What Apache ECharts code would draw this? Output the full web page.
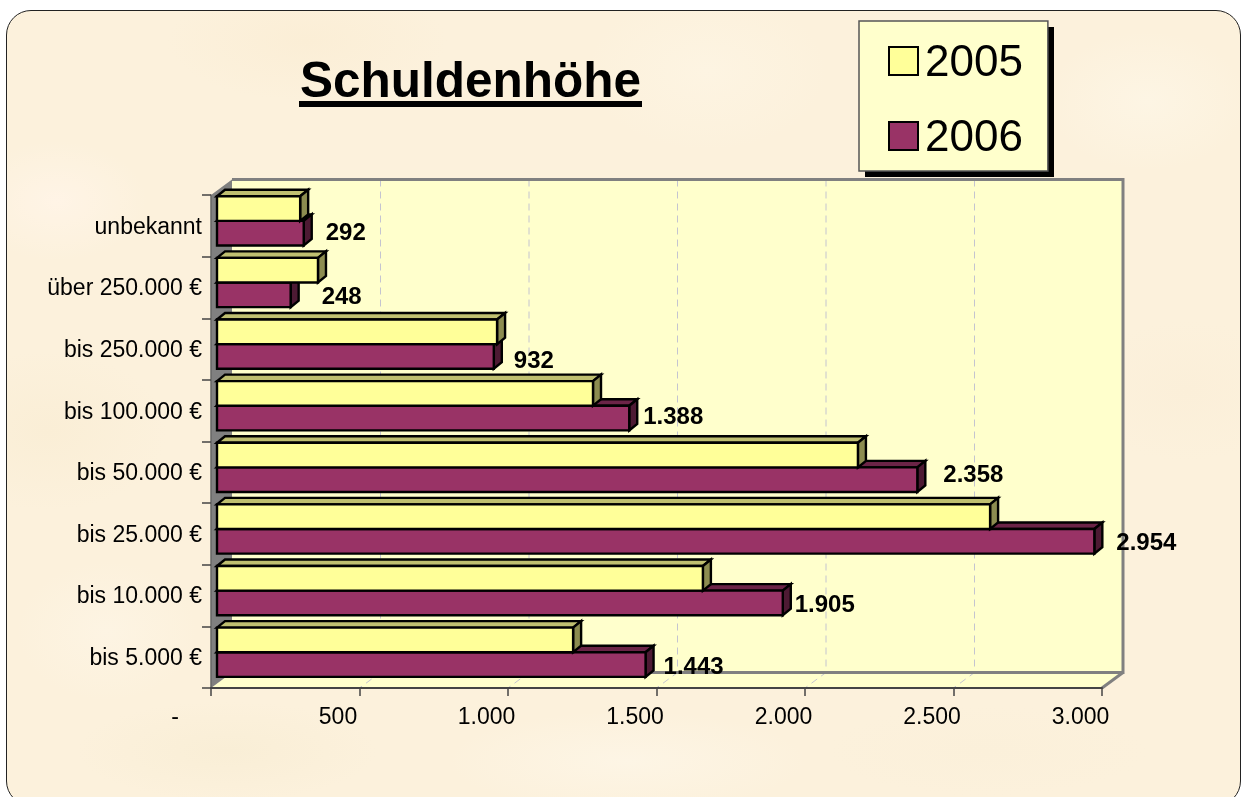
<!DOCTYPE html>
<html>
<head>
<meta charset="utf-8">
<script src="https://cdn.jsdelivr.net/npm/echarts@6/dist/echarts.min.js"></script>
<style>
html,body{margin:0;padding:0;background:#fff;width:1241px;height:797px;overflow:hidden}
#paper{position:absolute;left:6px;top:10px;width:1233px;height:794px;border:1.5px solid #222;border-radius:25px;
background-color:#fcf1dc;
background-image:
radial-gradient(ellipse 90px 60px at 50px 190px,#fff4e6 0,rgba(255,244,230,0) 100%),
radial-gradient(ellipse 140px 60px at 300px 30px,#fbeed6 0,rgba(251,238,214,0) 100%),
radial-gradient(ellipse 120px 80px at 700px 60px,#fdf4e2 0,rgba(253,244,226,0) 100%),
radial-gradient(ellipse 100px 70px at 1140px 90px,#fdf5e4 0,rgba(253,245,228,0) 100%),
radial-gradient(ellipse 120px 80px at 40px 420px,#faeed6 0,rgba(250,238,214,0) 100%),
radial-gradient(ellipse 110px 70px at 1180px 380px,#fbefd9 0,rgba(251,239,217,0) 100%),
radial-gradient(ellipse 150px 50px at 220px 740px,#f9eed6 0,rgba(249,238,214,0) 100%),
radial-gradient(ellipse 180px 50px at 620px 750px,#fdf5e5 0,rgba(253,245,229,0) 100%),
radial-gradient(ellipse 160px 45px at 980px 740px,#fbf0da 0,rgba(251,240,218,0) 100%),
radial-gradient(ellipse 90px 70px at 100px 620px,#fdf4e3 0,rgba(253,244,227,0) 100%);}
#chart{position:absolute;left:0;top:0;width:1241px;height:797px}
</style>
</head>
<body>
<div id="paper"></div>
<div id="chart"></div>
<script>
// data
const categories = ['bis 5.000 €','bis 10.000 €','bis 25.000 €','bis 50.000 €','bis 100.000 €','bis 250.000 €','über 250.000 €','unbekannt'];
const values2005 = [1199,1636,2603,2158,1266,943,340,280];
const values2006 = [1443,1905,2954,2358,1388,932,248,292];
const tickValues = [0,500,1000,1500,2000,2500,3000];
const tickLabels = ['-','500','1.000','1.500','2.000','2.500','3.000'];
const titleText = 'Schuldenhöhe';
// label nudges (style, not data): px from bar end / band centre
const labelDx = [48,42,52,56,44,40,51,42];
const labelDy = [10,10,9,3,7,12,10,8];

const FONT = '"Liberation Sans", Arial, sans-serif';
const DEPTH_X = 21, DEPTH_Y = 15.5;   // back wall offset
const BAR_X = 6, BAR_DX = 8, BAR_DY = 6.5; // bar offset and extrusion

const fmt = v => String(v).replace(/\B(?=(\d{3})+$)/g,'.');

function wallItem(params, api){
  const n = categories.length;
  const bl = api.coord([0,0]); const band = api.size([0,1])[1];
  const x0 = bl[0], y0 = bl[1] + band/2;
  const x1 = api.coord([3000,0])[0], y1 = y0 - band*n;
  const dx = DEPTH_X, dy = DEPTH_Y;
  const kids = [];
  kids.push({type:'polygon',shape:{points:[[x0+dx,y1-dy],[x1+dx,y1-dy],[x1+dx,y0-dy],[x0+dx,y0-dy]]},style:{fill:'#ffffcc',stroke:'none'}});
  kids.push({type:'polygon',shape:{points:[[x0,y0],[x1,y0],[x1+dx,y0-dy],[x0+dx,y0-dy]]},style:{fill:'#ffffcc',stroke:'none'}});
  tickValues.slice(1,-1).forEach(t=>{
    const x = api.coord([t,0])[0];
    kids.push({type:'polyline',shape:{points:[[x+dx,y1-dy],[x+dx,y0-dy],[x,y0]]},style:{fill:'none',stroke:'#c4c4d0',lineWidth:1,lineDash:[7,5]}});
  });
  kids.push({type:'polygon',shape:{points:[[x0,y1],[x0+dx,y1-dy],[x0+dx,y0-dy],[x0,y0]]},style:{fill:'#808080',stroke:'none'}});
  kids.push({type:'polyline',shape:{points:[[x0+dx,y1-dy],[x1+dx,y1-dy],[x1+dx,y0-dy],[x0+dx,y0-dy]]},style:{fill:'none',stroke:'#808080',lineWidth:3}});
  kids.push({type:'polyline',shape:{points:[[x1+dx,y0-dy],[x1,y0]]},style:{fill:'none',stroke:'#808080',lineWidth:3}});
  return {type:'group',children:kids};
}

function barItem(from,to,front,side,top,showLabel){
  return function(params, api){
    const v = api.value(0), c = api.value(1);
    const end = api.coord([v,c]), base = api.coord([0,c]);
    const band = api.size([0,1])[1];
    const xa = base[0]+BAR_X, xb = end[0]+BAR_X;
    const ya = end[1]+from*band, yb = end[1]+to*band;
    const lw = 2.4;
    const kids = [
      {type:'polygon',shape:{points:[[xa,ya],[xa+BAR_DX,ya-BAR_DY],[xb+BAR_DX,ya-BAR_DY],[xb,ya]]},style:{fill:top,stroke:'#000',lineWidth:lw,lineJoin:'miter'}},
      {type:'polygon',shape:{points:[[xb,ya],[xb+BAR_DX,ya-BAR_DY],[xb+BAR_DX,yb-BAR_DY],[xb,yb]]},style:{fill:side,stroke:'#000',lineWidth:lw,lineJoin:'miter'}},
      {type:'rect',shape:{x:xa,y:ya,width:xb-xa,height:yb-ya},style:{fill:front,stroke:'#000',lineWidth:lw}}
    ];
    if(showLabel){
      kids.push({type:'text',style:{text:fmt(v),x:xb+labelDx[c],y:end[1]+labelDy[c],align:'center',verticalAlign:'middle',
        font:'bold 24px '+FONT,fill:'#000'}});
    }
    return {type:'group',children:kids};
  };
}

const chart = echarts.init(document.getElementById('chart'),null,{renderer:'canvas',width:1241,height:797});
chart.setOption({
  animation:false,
  backgroundColor:'transparent',
  title:{text:titleText,left:465.5,textAlign:'center',top:53,
    textStyle:{fontFamily:FONT,fontWeight:'bold',fontSize:49.5,color:'#000'}},
  graphic:[
    {type:'rect',z:0,shape:{x:299,y:101,width:343,height:6},style:{fill:'#000'}},
    {type:'rect',z:0,shape:{x:865,y:27,width:189,height:150},style:{fill:'#000'}}
  ],
  legend:{
    orient:'vertical',left:859,top:21,
    padding:[15,25,10,29],itemWidth:29,itemHeight:28,itemGap:25,
    backgroundColor:'#ffffcc',borderColor:'#555',borderWidth:1.5,
    selectedMode:false,
    formatter:name=>'{a|'+name+'}',
    textStyle:{fontFamily:FONT,fontSize:44,color:'#000',
      rich:{a:{fontFamily:FONT,fontSize:44,lineHeight:44,color:'#000',padding:[6,0,0,2]}}},
    data:[
      {name:'2005',icon:'rect',itemStyle:{color:'#ffff99',borderColor:'#000',borderWidth:2}},
      {name:'2006',icon:'rect',itemStyle:{color:'#993366',borderColor:'#000',borderWidth:2}}
    ]
  },
  grid:{left:211,right:139,top:195,bottom:109,containLabel:false},
  xAxis:{type:'value',min:0,max:3000,interval:500,z:5,
    axisLine:{show:true,lineStyle:{color:'#444',width:2}},
    axisTick:{show:true,length:8,lineStyle:{color:'#444',width:1.5}},
    splitLine:{show:false},
    axisLabel:{margin:18,showMinLabel:true,showMaxLabel:true,hideOverlap:false,color:'#000',
      formatter:(v)=>{const s=tickLabels[tickValues.indexOf(v)];return v===0?'{z|'+s+'}':'{n|'+s+'}';},
      rich:{n:{fontFamily:FONT,fontSize:23,color:'#000',padding:[0,43,0,0]},
            z:{fontFamily:FONT,fontSize:23,color:'#000',padding:[0,72,0,0]}}}
  },
  yAxis:{type:'category',data:categories,z:5,
    axisLine:{show:true,lineStyle:{color:'#666',width:1.5}},
    axisTick:{show:true,length:9,alignWithLabel:false,lineStyle:{color:'#444',width:1.5}},
    axisLabel:{margin:9,interval:0,color:'#000',formatter:v=>'{c|'+v+'}',
      rich:{c:{fontFamily:FONT,fontSize:23,color:'#000',padding:[3,0,0,0]}}}
  },
  tooltip:{show:false},
  series:[
    {name:'walls',type:'custom',silent:true,z:1,clip:false,renderItem:wallItem,data:[[0,0]],encode:{x:0,y:1}},
    {name:'2005',type:'custom',z:3,clip:false,itemStyle:{color:'#ffff99'},
      renderItem:barItem(-0.48,-0.08,'#ffff99','#8c8c50','#bfbf70',false),
      data:values2005.map((v,i)=>[v,i]),encode:{x:0,y:1}},
    {name:'2006',type:'custom',z:2,clip:false,itemStyle:{color:'#993366'},
      renderItem:barItem(-0.08,0.32,'#993366','#4d1a33','#6b2447',true),
      data:values2006.map((v,i)=>[v,i]),encode:{x:0,y:1}}
  ]
});
</script>
</body>
</html>
